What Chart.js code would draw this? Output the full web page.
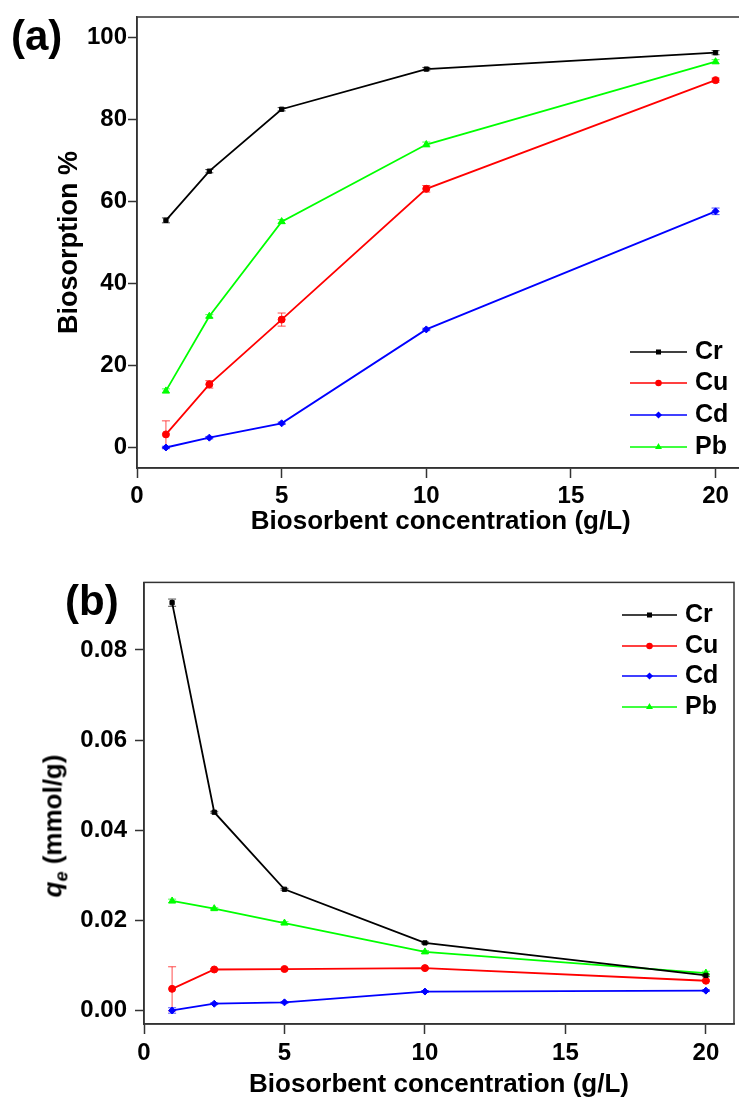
<!DOCTYPE html>
<html lang="en">
<head>
<meta charset="UTF-8">
<title>Biosorption vs biosorbent concentration</title>
<script src="https://cdn.jsdelivr.net/npm/chart.js@4.4.1/dist/chart.umd.min.js"></script>
<style>
  body { margin: 0; background: #fff; width: 739px; height: 1100px; overflow: hidden; position: relative;
         font-family: "Liberation Sans", Arial, sans-serif; }
  .panel { position: absolute; left: 0; width: 739px; overflow: hidden; }
  #wrapA { top: 0; height: 550px; }
  #wrapB { top: 560px; height: 540px; }
  .lab { position: absolute; font-weight: bold; font-size: 42px; line-height: 42px; }
  #ylabB { position: absolute; left: 55px; top: 826px; font-weight: bold; font-size: 26px; white-space: nowrap;
           transform: translate(-50%, -50%) rotate(-90deg); }
  #ylabB sub { font-size: 18px; }
</style>
</head>
<body>
<div class="panel" id="wrapA"><canvas id="chartA" width="760" height="550"></canvas></div>
<div class="panel" id="wrapB"><canvas id="chartB" width="739" height="540"></canvas></div>
<div class="lab" style="left:11px;top:15px;">(a)</div>
<div class="lab" style="left:65px;top:580px;">(b)</div>
<div id="ylabB"><i>q<sub>e</sub></i> (mmol/g)</div>

<script>
// biosorbent concentration (g/L)
const conc = [1, 2.5, 5, 10, 20];
const metals = ['Cr', 'Cu', 'Cd', 'Pb'];

// (a) biosorption %
const crPct = [55.4, 67.4, 82.5, 92.3, 96.3];
const cuPct = [3.2, 15.4, 31.2, 63.1, 89.6];
const cdPct = [0.0, 2.4, 5.9, 28.8, 57.6];
const pbPct = [13.8, 32.0, 55.1, 73.9, 94.1];
const crPctErr = [0.6, 0.4, 0.4, 0.4, 0.5];
const cuPctErr = [3.3, 0.9, 1.6, 0.8, 0.5];
const cdPctErr = [0.3, 0.3, 0.3, 0.3, 0.8];
const pbPctErr = [0.5, 0.4, 0.5, 0.6, 0.5];

// (b) qe (mmol/g)
const crQe = [0.0905, 0.0440, 0.0269, 0.0150, 0.0078];
const cuQe = [0.0048, 0.0091, 0.0092, 0.0094, 0.0066];
const cdQe = [0.0000, 0.0015, 0.0018, 0.0042, 0.0044];
const pbQe = [0.0243, 0.0226, 0.0194, 0.0130, 0.0083];
const crQeErr = [0.0008, 0.0002, 0.0002, 0.0002, 0.0003];
const cuQeErr = [0.0049, 0.0002, 0.0002, 0.0002, 0.0002];
const cdQeErr = [0.0006, 0.0002, 0.0002, 0.0002, 0.0002];
const pbQeErr = [0.0004, 0.0002, 0.0003, 0.0003, 0.0004];

const xTicks = [0, 5, 10, 15, 20];
const yTicksA = [0, 20, 40, 60, 80, 100];
const yTicksB = [0, 0.02, 0.04, 0.06, 0.08];

const colors = ['#000000', '#ff0000', '#0000ff', '#00ff00'];
const markers = ['rect', 'circle', 'rectRot', 'triangle'];
const radii = [3, 3.5, 3.5, 4];

Chart.defaults.font.family = '"Liberation Sans", Arial, sans-serif';
Chart.defaults.color = '#000';

function makeSets(series, errs) {
  return series.map((vals, i) => ({
    label: metals[i],
    data: conc.map((x, j) => ({ x: x, y: vals[j] })),
    errors: errs[i],
    borderColor: colors[i],
    backgroundColor: colors[i],
    borderWidth: 1.8,
    pointStyle: markers[i],
    pointRadius: radii[i],
    pointBorderWidth: 1,
    tension: 0
  }));
}

// error bars drawn under the markers
const errorBars = {
  id: 'errorBars',
  beforeDatasetsDraw(chart) {
    const ctx = chart.ctx, ys = chart.scales.y;
    ctx.save();
    chart.data.datasets.forEach((ds, i) => {
      const meta = chart.getDatasetMeta(i);
      ctx.strokeStyle = ds.borderColor;
      ctx.globalAlpha = 0.7;
      ctx.lineWidth = 1;
      meta.data.forEach((pt, j) => {
        const e = ds.errors[j];
        const v = ds.data[j].y;
        const top = ys.getPixelForValue(v + e), bot = ys.getPixelForValue(v - e);
        ctx.beginPath();
        ctx.moveTo(pt.x, top); ctx.lineTo(pt.x, bot);
        ctx.moveTo(pt.x - 4, top); ctx.lineTo(pt.x + 4, top);
        ctx.moveTo(pt.x - 4, bot); ctx.lineTo(pt.x + 4, bot);
        ctx.stroke();
      });
    });
    ctx.restore();
  }
};

// box around the plot area
const frame = {
  id: 'frame',
  beforeDatasetsDraw(chart) {
    const { ctx, chartArea: a } = chart;
    ctx.save();
    ctx.strokeStyle = '#333';
    ctx.lineWidth = 1.5;
    ctx.strokeRect(a.left, a.top, a.right - a.left, a.bottom - a.top);
    ctx.restore();
  }
};

const boxLegend = {
  id: 'boxLegend',
  afterDraw(chart, args, opts) {
    const ctx = chart.ctx;
    ctx.save();
    chart.data.datasets.forEach((ds, i) => {
      const y = opts.rows[i];
      ctx.strokeStyle = ds.borderColor;
      ctx.fillStyle = ds.borderColor;
      ctx.lineWidth = 1.5;
      ctx.beginPath(); ctx.moveTo(opts.x1, y); ctx.lineTo(opts.x2, y); ctx.stroke();
      Chart.helpers.drawPoint(ctx, { pointStyle: ds.pointStyle, radius: 2.5, borderWidth: 1 }, (opts.x1 + opts.x2) / 2, y);
      ctx.fillStyle = '#000';
      ctx.font = 'bold 25px "Liberation Sans", Arial, sans-serif';
      ctx.textBaseline = 'middle';
      ctx.textAlign = 'left';
      ctx.fillText(ds.label, opts.textX, y);
    });
    ctx.restore();
  }
};

function axisX(height, tickPad, titlePad) {
  return {
    type: 'linear', min: 0, max: 21,
    afterBuildTicks: s => { s.ticks = xTicks.map(v => ({ value: v })); },
    afterFit: s => { s.height = height; },
    grid: { drawOnChartArea: false, drawTicks: true, tickLength: 10, tickColor: '#333', tickWidth: 1.5 },
    border: { display: true, color: '#333', width: 1.5 },
    ticks: { font: { size: 24, weight: 'bold' }, color: '#000', padding: tickPad, maxRotation: 0 },
    title: { display: true, text: 'Biosorbent concentration (g/L)', font: { size: 26, weight: 'bold' },
             color: '#000', padding: { top: 0, bottom: titlePad } }
  };
}

function axisY(min, max, ticks, width, tickPad, fmt, title) {
  return {
    type: 'linear', min: min, max: max,
    afterBuildTicks: s => { s.ticks = ticks.map(v => ({ value: v })); },
    afterFit: s => { s.width = width; },
    grid: { drawOnChartArea: false, drawTicks: true, tickLength: 9, tickColor: '#333', tickWidth: 1.5 },
    border: { display: true, color: '#333', width: 1.5 },
    ticks: { font: { size: 24, weight: 'bold' }, color: '#000', padding: tickPad, callback: fmt },
    title: title
  };
}

new Chart(document.getElementById('chartA'), {
  type: 'line',
  data: { datasets: makeSets([crPct, cuPct, cdPct, pbPct], [crPctErr, cuPctErr, cdPctErr, pbPctErr]) },
  options: {
    responsive: false, animation: false,
    layout: { padding: { top: 17, right: 15.5, left: 0, bottom: 0 } },
    plugins: { legend: { display: false }, tooltip: { enabled: false },
               boxLegend: { x1: 630, x2: 687, textX: 695, rows: [352, 383, 415, 447] } },
    scales: {
      x: axisX(82, 4, 13),
      y: axisY(-5, 105, yTicksA, 137, 1, v => v.toFixed(0),
        { display: true, text: 'Biosorption %', font: { size: 27, weight: 'bold' }, color: '#000', padding: { top: 53 } })
    }
  },
  plugins: [frame, errorBars, boxLegend]
});

new Chart(document.getElementById('chartB'), {
  type: 'line',
  data: { datasets: makeSets([crQe, cuQe, cdQe, pbQe], [crQeErr, cuQeErr, cdQeErr, pbQeErr]) },
  options: {
    responsive: false, animation: false,
    layout: { padding: { top: 21, right: 2, left: 0, bottom: 0 } },
    plugins: { legend: { display: false }, tooltip: { enabled: false },
               boxLegend: { x1: 622, x2: 677, textX: 685, rows: [55, 86, 116, 147] } },
    scales: {
      x: axisX(76, 5, 0),
      y: axisY(-0.003, 0.095, yTicksB, 144, 8, v => v.toFixed(2), { display: false })
    }
  },
  plugins: [frame, errorBars, boxLegend]
});
</script>
</body>
</html>
